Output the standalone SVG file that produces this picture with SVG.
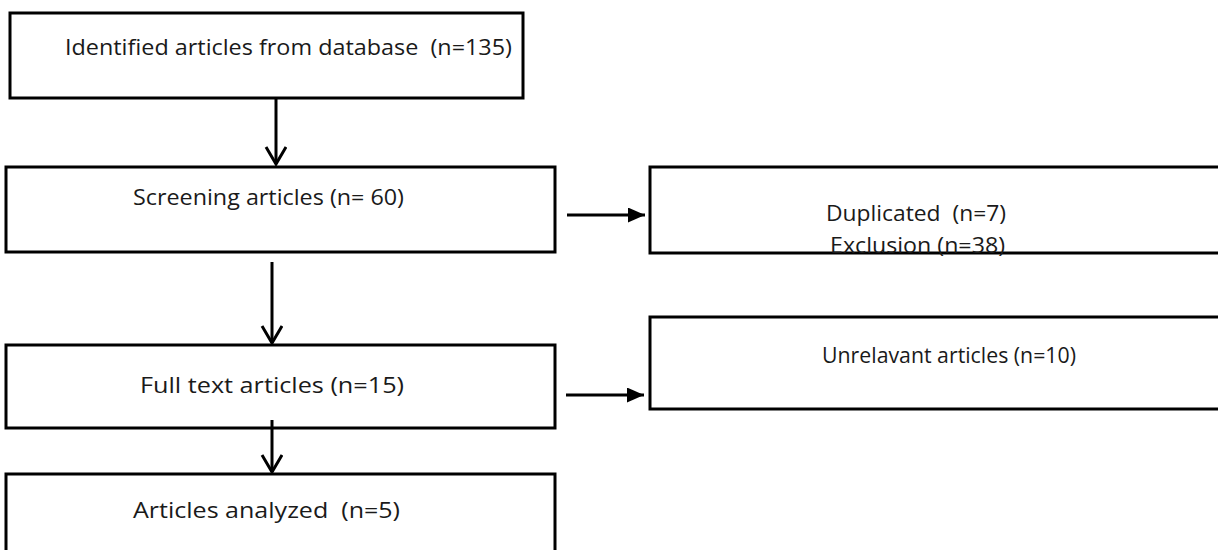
<svg xmlns="http://www.w3.org/2000/svg" width="1218" height="550" viewBox="0 0 1218 550">
<style>
.box{fill:#fff;stroke:#000;stroke-width:3}
.t{font-family:"Open Sans","Liberation Sans",sans-serif;font-size:21.5px;fill:#1a1a1a;white-space:pre}
.c{stroke:#000;stroke-width:3;fill:none}
</style>
<defs>
<marker id="open" markerWidth="22" markerHeight="24" refX="18" refY="11" orient="auto" markerUnits="userSpaceOnUse">
<path d="M1,1 L18,11 L1,21" fill="none" stroke="#000" stroke-width="3"/>
</marker>
<marker id="solid" markerWidth="18" markerHeight="16" refX="17" refY="7.5" orient="auto" markerUnits="userSpaceOnUse">
<path d="M0,0 L17,7.5 L0,15 Z" fill="#000"/>
</marker>
</defs>
<rect width="1218" height="550" fill="#fff"/>
<g id="n1"><rect class="box" x="10" y="13" width="513" height="85"/><text class="t" x="65" y="55" textLength="447" lengthAdjust="spacingAndGlyphs">Identified articles from database  (n=135)</text></g>
<g id="n2"><rect class="box" x="6" y="167" width="549" height="85"/><text class="t" x="133" y="205" textLength="271" lengthAdjust="spacingAndGlyphs">Screening articles (n= 60)</text></g>
<g id="n3"><rect class="box" x="6" y="345" width="549" height="83"/><text class="t" x="140" y="393" textLength="264" lengthAdjust="spacingAndGlyphs">Full text articles (n=15)</text></g>
<g id="n4"><rect class="box" x="6" y="474" width="549" height="85"/><text class="t" x="133" y="518" textLength="267" lengthAdjust="spacingAndGlyphs">Articles analyzed  (n=5)</text></g>
<g id="n5"><rect class="box" x="650" y="167" width="580" height="86"/><text class="t" x="826" y="221" textLength="180" lengthAdjust="spacingAndGlyphs">Duplicated  (n=7)</text><text class="t" x="830" y="253" textLength="175" lengthAdjust="spacingAndGlyphs">Exclusion (n=38)</text></g>
<g id="n6"><rect class="box" x="650" y="317" width="580" height="92"/><text class="t" x="822" y="363" textLength="254" lengthAdjust="spacingAndGlyphs">Unrelavant articles (n=10)</text></g>
<g id="connectors">
<line class="c" x1="276" y1="98" x2="276" y2="164" marker-end="url(#open)"/>
<line class="c" x1="272" y1="262" x2="272" y2="343" marker-end="url(#open)"/>
<line class="c" x1="272" y1="420" x2="272" y2="472" marker-end="url(#open)"/>
<line class="c" x1="567" y1="215" x2="645" y2="215" marker-end="url(#solid)"/>
<line class="c" x1="566" y1="395" x2="644" y2="395" marker-end="url(#solid)"/>
</g>
</svg>
